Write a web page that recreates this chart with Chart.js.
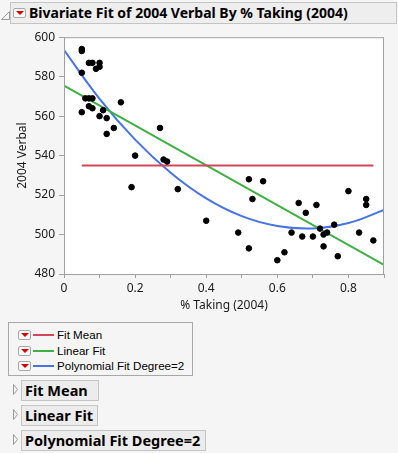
<!DOCTYPE html>
<html lang="en">
<head>
<meta charset="UTF-8" />
<title>Bivariate Fit</title>
<script src="https://cdn.jsdelivr.net/npm/chart.js"></script>
<style>
  html, body { margin: 0; padding: 0; }
  body { width: 398px; height: 453px; background: #f5f5f5; position: relative; overflow: hidden;
         font-family: "Noto Sans", "Open Sans", sans-serif; color: #000; }
  .abs { position: absolute; }
  .titlebar { left: 10px; top: 2px; width: 385px; height: 20px; background: #eeeeee; border: 1px solid #c4c4c4; }
  .titlebar span { position: absolute; left: 18px; top: 0px; font-weight: bold; font-size: 14px; line-height: 20px; white-space: nowrap; }
  .dd { position: absolute; width: 11px; height: 8px; border: 1px solid #a8a8a8; border-radius: 2px; background: #f8f8f8; }
  .dd::after { content: ""; position: absolute; left: 2px; top: 2px; border-left: 4px solid transparent; border-right: 4px solid transparent; border-top: 4px solid #d40000; }
  #plot { position: absolute; left: 0; top: 26px; }
  .legend { left: 8px; top: 322px; width: 183px; height: 52px; border: 1px solid #a8a8a8; }
  .row { position: absolute; left: 0; height: 16px; width: 183px; }
  .row .dd { left: 9px; top: 3px; }
  .row .ln { position: absolute; left: 24px; top: 7px; width: 21px; height: 2px; }
  .row .tx { position: absolute; left: 48px; top: 0; font-family: "Liberation Sans", Arial, sans-serif; font-size: 11.6px; line-height: 16px; white-space: nowrap; }
  .node { left: 21px; height: 19px; background: #ececec; border: 1px solid #c4c4c4; }
  .node span { position: absolute; left: 3px; top: 0; font-weight: bold; font-size: 14.5px; line-height: 19px; white-space: nowrap; }
</style>
</head>
<body>
<svg class="abs" style="left:0;top:0" width="12" height="24"><polygon points="9.5,11.5 9.5,19.5 1.5,19.5" fill="none" stroke="#9a9a9a" stroke-width="1"/></svg>
<div class="abs titlebar">
  <div class="dd" style="left:2px;top:5px"></div>
  <span>Bivariate Fit of 2004 Verbal By % Taking (2004)</span>
</div>

<canvas id="plot" width="398" height="294"></canvas>

<div class="abs legend">
  <div class="row" style="top:4px"><div class="dd"></div><div class="ln" style="background:#d24657"></div><div class="tx">Fit Mean</div></div>
  <div class="row" style="top:20px"><div class="dd"></div><div class="ln" style="background:#3cb043"></div><div class="tx">Linear Fit</div></div>
  <div class="row" style="top:35px"><div class="dd"></div><div class="ln" style="background:#4674e3"></div><div class="tx">Polynomial Fit Degree=2</div></div>
</div>

<svg class="abs" style="left:10px;top:380px" width="12" height="72">
  <polygon points="3.5,4.5 7.5,9.5 3.5,14.5" fill="none" stroke="#9a9a9a"/>
  <polygon points="3.5,29.5 7.5,34.5 3.5,39.5" fill="none" stroke="#9a9a9a"/>
  <polygon points="3.5,54.5 7.5,59.5 3.5,64.5" fill="none" stroke="#9a9a9a"/>
</svg>
<div class="abs node" style="top:380px;width:76px"><span>Fit Mean</span></div>
<div class="abs node" style="top:405px;width:75px"><span>Linear Fit</span></div>
<div class="abs node" style="top:430px;width:183px"><span>Polynomial Fit Degree=2</span></div>

<script>
  // % Taking (2004) and 2004 Verbal, one entry per state
  const pctTaking = [
    0.05, 0.05, 0.05, 0.07, 0.08, 0.09, 0.10, 0.10,
    0.06, 0.07, 0.08, 0.07, 0.08, 0.05, 0.10, 0.11, 0.12, 0.12, 0.14, 0.16,
    0.20, 0.27, 0.28, 0.29, 0.19, 0.32,
    0.40, 0.49, 0.52, 0.53, 0.52, 0.56, 0.60, 0.62, 0.64, 0.66, 0.67, 0.68,
    0.70, 0.71, 0.72, 0.73, 0.74, 0.73, 0.76, 0.77, 0.80, 0.83, 0.85, 0.85, 0.87
  ];
  const verbal2004 = [
    594, 593, 582, 587, 587, 584, 585, 587,
    569, 569, 569, 565, 564, 562, 560, 563, 559, 551, 554, 567,
    540, 554, 538, 537, 524, 523,
    507, 501, 528, 518, 493, 527, 487, 491, 501, 516, 499, 511,
    499, 515, 503, 500, 501, 494, 505, 489, 522, 501, 518, 515, 497
  ];

  // fitted lines
  const meanX = [0.05, 0.87];
  const meanY = [535, 535];
  const linearX = [0, 0.9];
  const linearY = [575.5, 484.6];
  const polyX = [0, 0.1, 0.2, 0.3, 0.4, 0.5, 0.6, 0.7, 0.8, 0.9];
  const polyY = [593.5, 568.8, 548.1, 531.3, 518.3, 509.3, 504.3, 503.1, 505.8, 512.5];

  const yTicks = [480, 500, 520, 540, 560, 580, 600];

  const toXY = (xs, ys) => xs.map((x, i) => ({ x: x, y: ys[i] }));

  Chart.defaults.font.family = '"Noto Sans", "Open Sans", sans-serif';
  Chart.defaults.font.size = 12;
  Chart.defaults.color = '#1a1a1a';

  const frame = {
    id: 'frame',
    beforeDraw(chart) {
      const { ctx, chartArea: a } = chart;
      ctx.save();
      ctx.fillStyle = '#ffffff';
      ctx.fillRect(a.left, a.top, a.right - a.left, a.bottom - a.top);
      ctx.restore();
    },
    afterDraw(chart) {
      const { ctx, chartArea: a } = chart;
      ctx.save();
      ctx.strokeStyle = '#a0a0a0';
      ctx.lineWidth = 1;
      ctx.strokeRect(a.left + 0.5, a.top + 0.5, a.right - a.left - 1, a.bottom - a.top);
      ctx.restore();
    }
  };

  new Chart(document.getElementById('plot'), {
    type: 'scatter',
    data: {
      datasets: [
        { label: 'Points', data: toXY(pctTaking, verbal2004), backgroundColor: '#000', borderColor: '#000',
          pointRadius: 2.8, pointHoverRadius: 2.8, order: 0 },
        { label: 'Fit Mean', data: toXY(meanX, meanY), showLine: true, borderColor: '#d24657', borderWidth: 2,
          pointRadius: 0, order: 1 },
        { label: 'Linear Fit', data: toXY(linearX, linearY), showLine: true, borderColor: '#3cb043', borderWidth: 2,
          pointRadius: 0, order: 1 },
        { label: 'Polynomial Fit Degree=2', data: toXY(polyX, polyY), showLine: true, borderColor: '#4674e3',
          borderWidth: 2, pointRadius: 0, tension: 0.4, order: 1 }
      ]
    },
    options: {
      responsive: false,
      animation: false,
      layout: { padding: { top: 8, right: 14, left: 0, bottom: 0 } },
      plugins: { legend: { display: false }, tooltip: { enabled: false } },
      scales: {
        x: {
          type: 'linear', min: 0, max: 0.9,
          afterFit(s) { s.height = 46; },
          ticks: {
            stepSize: 0.1, padding: 3, maxRotation: 0, autoSkip: false,
            callback: (v) => { const k = Math.round(v * 10); return k % 2 === 0 ? String(k / 10) : ''; }
          },
          grid: { drawOnChartArea: false, tickLength: 4, color: '#a0a0a0' },
          border: { color: '#a0a0a0' },
          title: { display: true, text: '% Taking (2004)', padding: { top: 0, bottom: 7 } }
        },
        y: {
          min: 480, max: 600,
          afterFit(s) { s.width = 64; },
          afterBuildTicks(s) { s.ticks = yTicks.map(v => ({ value: v })); },
          ticks: { padding: 4 },
          grid: { drawOnChartArea: false, tickLength: 5, color: '#a0a0a0' },
          border: { color: '#a0a0a0' },
          title: { display: true, text: '2004 Verbal', padding: { top: 15, bottom: 0 } }
        }
      }
    },
    plugins: [frame]
  });
</script>
</body>
</html>
